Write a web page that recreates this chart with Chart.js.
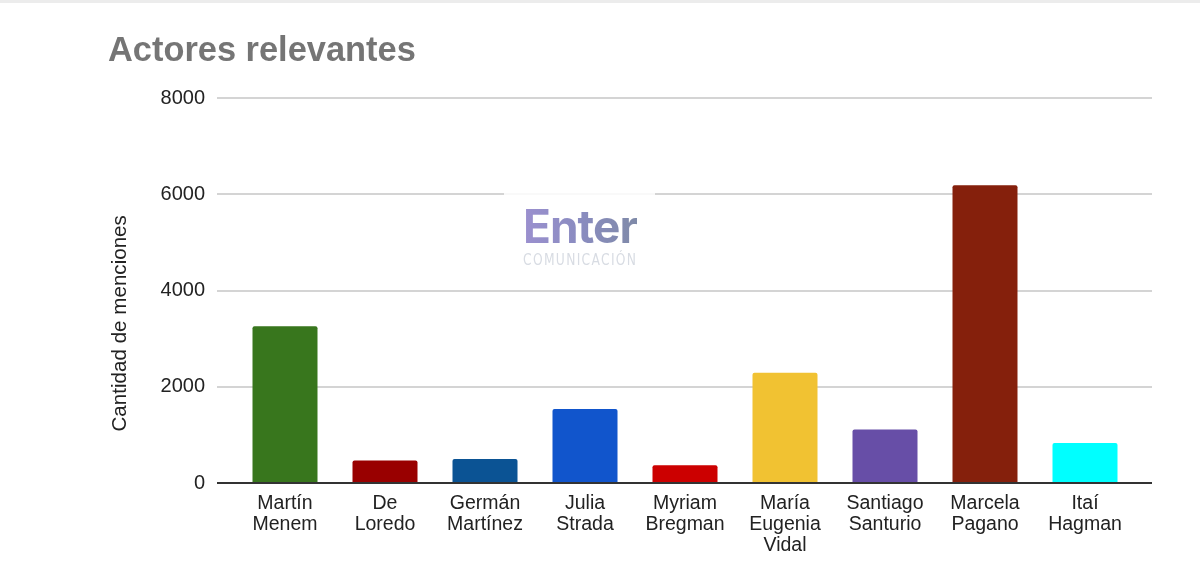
<!DOCTYPE html>
<html><head><meta charset="utf-8">
<script src="https://cdn.jsdelivr.net/npm/chart.js@4"></script>
<style>html,body{margin:0;padding:0;background:#fff;width:1200px;height:584px;overflow:hidden}
#wrap{position:absolute;left:0;top:0;width:1200px;height:584px}
#topline{position:absolute;left:0;top:0;width:1200px;height:3px;background:#ececec}
#wm{position:absolute;left:504px;top:192px;width:151px;height:84px;background:rgba(255,255,255,.85)}
#wm .a{position:absolute;left:19px;top:9px;font:700 46px "Inter";letter-spacing:-1px;line-height:50px;background:linear-gradient(90deg,#9b90cf,#8a8cc0 50%,#7f8aa8);-webkit-background-clip:text;background-clip:text;color:transparent;white-space:nowrap;filter:blur(.5px)}
#wm .b{position:absolute;left:19px;top:59px;font:15px "DejaVu Sans";color:#d8dce3;letter-spacing:1.6px;line-height:18px;transform:scaleX(.82);transform-origin:left;white-space:nowrap}
</style></head><body>
<div id="wrap"><div id="topline"></div><canvas id="c" width="1200" height="584"></canvas>
<div id="wm"><div class="a">Enter</div><div class="b">COMUNICACIÓN</div></div></div>
<script>
const categories=[["Martín","Menem"],["De","Loredo"],["Germán","Martínez"],["Julia","Strada"],["Myriam","Bregman"],["María","Eugenia","Vidal"],["Santiago","Santurio"],["Marcela","Pagano"],["Itaí","Hagman"]];
const mentions=[3260,470,500,1540,370,2290,1110,6190,830];
const barColors=["#38761d","#990000","#0b5394","#1155cc","#cc0000","#f1c232","#674ea7","#85200c","#00ffff"];
const tickValues=[0,2000,4000,6000,8000];
new Chart(document.getElementById('c'),{type:'bar',
data:{labels:categories,datasets:[{data:mentions.map((v,i)=>({x:i,y:v})),backgroundColor:barColors,borderRadius:2,barPercentage:1,categoryPercentage:0.65}]},
options:{responsive:false,animation:false,
layout:{padding:{left:108,right:48,top:0,bottom:0}},
plugins:{legend:{display:false},tooltip:{enabled:false},
title:{display:true,text:'Actores relevantes',align:'start',color:'#757575',font:{family:'"Liberation Sans"',size:34.4,weight:'bold'},padding:{top:31,bottom:26}}},
scales:{
y:{min:0,max:8000,afterBuildTicks(a){a.ticks=tickValues.map(v=>({value:v}));},
afterFit(a){a.width=109;},
title:{display:true,align:'start',text:'\u00a0'.repeat(9)+'Cantidad de menciones',color:'#222',font:{family:'"Liberation Sans"',size:20.6},padding:0},
border:{display:false},
grid:{color:ctx=>ctx.tick.value===0?'#333':'#d4d4d4',lineWidth:2,drawTicks:false},
ticks:{color:'#222',font:{family:'"Liberation Sans"',size:20},padding:12,callback:v=>String(v)}},
x:{type:'linear',offset:false,min:-0.68,max:8.67,
afterBuildTicks(a){a.ticks=categories.map((c,i)=>({value:i}));},
afterFit(a){a.height=101;},
grid:{display:false},border:{display:false},
ticks:{color:'#222',font:{family:'"Liberation Sans"',size:19.5,lineHeight:1.08},padding:2,maxRotation:0,autoSkip:false,callback:v=>categories[v]}}
}}});
</script></body></html>
